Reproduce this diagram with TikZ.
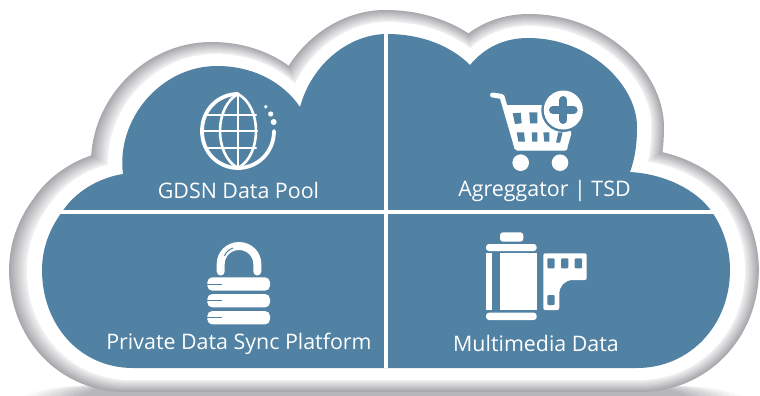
\documentclass[tikz,border=0pt]{standalone}
\usepackage{fontspec}
\setmainfont{Open Sans}
\definecolor{cloudblue}{HTML}{5182A3}
\definecolor{rimdark}{HTML}{A8A8AD}
\definecolor{shadowgray}{HTML}{B4B4B7}
\tikzstyle{cloudlabel}=[text=white,font=\fontsize{21.4}{24}\selectfont,inner sep=0pt]
\tikzstyle{divider}=[white,line width=3.2pt]
\tikzstyle{iconfill}=[fill=white,draw=none]
\tikzstyle{iconline}=[white,line cap=round,line join=round]
\tikzstyle{iconcut}=[fill=cloudblue,draw=none]
\newcommand{\cloudoutline}{
  (123,174) .. controls (116,120) and (160,66) .. (217,66) .. controls (253,66) and (283,82) .. (300,107)
  .. controls (312,63) and (350,34) .. (387,34) .. controls (420,34) and (450,45) .. (470,65)
  .. controls (485,47) and (505,38) .. (528,38) .. controls (590,38) and (637,85) .. (637,127)
  .. controls (637,145) and (635,158) .. (630,172)
  .. controls (665,174) and (697,190) .. (712,212) .. controls (723,228) and (730,248) .. (730,270)
  .. controls (730,325) and (690,368) .. (637,368) -- (133,368)
  .. controls (80,368) and (42,325) .. (42,270) .. controls (42,248) and (50,228) .. (62,212)
  .. controls (75,192) and (98,178) .. (123,174) -- cycle
}
\begin{document}
\begin{tikzpicture}[x=1pt,y=-1pt]
  \useasboundingbox (0,0) rectangle (760,396);
  % shadow under the cloud
  \foreach \i in {0,1,...,9} {
    \pgfmathsetmacro{\shade}{6+\i*10}
    \fill[shadowgray!\shade] (25+\i*6,396) .. controls (40+\i*6,388) and (60+\i*6,385) .. (120,385)
      -- (640,385) .. controls (700-\i*6,385) and (725-\i*6,388) .. (742-\i*6,396) -- cycle;
  }
  % grey rim, outer layers first
  \foreach \i in {12,11,...,1} {
    \pgfmathsetmacro{\shade}{100-(12-\i)*7.5}
    \pgfmathsetmacro{\wid}{2*(12+\i)}
    \pgfmathsetmacro{\xs}{1.009+\i*0.00092}
    \begin{scope}[shift={(386-386*\xs-\i*0.17,0)},xscale=\xs]
      \draw[rimdark!\shade,line width=\wid pt,line join=round] \cloudoutline;
    \end{scope}
  }
  \begin{scope}[shift={(386-386*1.009,0)},xscale=1.009]
    \draw[white,line width=24pt,line join=round] \cloudoutline;
  \end{scope}
  \fill[cloudblue] \cloudoutline;
  % quarters
  \coordinate (vtop) at (386,34);
  \coordinate (vbot) at (386,368);
  \coordinate (hleft) at (58,212);
  \coordinate (hright) at (714,212);
  \draw[divider] (vtop) -- (vbot);
  \draw[divider] (hleft) -- (hright);
  % globe
  \begin{scope}[shift={(238,131)}]
    \draw[iconline,line width=2.6pt] (0,-37) .. controls (-24,-24) and (-24,24) .. (0,37);
    \draw[iconline,line width=2.6pt] (0,-37) .. controls (24,-24) and (24,24) .. (0,37);
    \draw[iconline,line width=2.6pt] (0,-37) -- (0,37);
    \draw[iconline,line width=2.2pt] (-32,-16) -- (18,-16);
    \draw[iconline,line width=2.2pt] (-36,0) -- (19,0);
    \draw[iconline,line width=2.2pt] (-32,17) -- (18,17);
    \draw[iconline,line width=3.8pt] (36,0) .. controls (36,21) and (20,37) .. (0,37)
      .. controls (-20,37) and (-36,21) .. (-36,0) .. controls (-36,-21) and (-20,-37) .. (0,-37);
    \fill[white] (35.7,-9) circle (3);
    \fill[white] (32.7,-17) circle (2.6);
    \fill[white] (27.7,-24.3) circle (1.9);
  \end{scope}
  \node[cloudlabel] (pool) at (238.5,190.5) {GDSN Data Pool};
  % cart
  \fill[white] (520.7,162.7) circle (8.3);
  \fill[white] (560,162.7) circle (8.3);
  \draw[iconline,line width=5pt] (492.5,95) -- (502,96.5) -- (517,148) -- (565,148);
  \fill[iconfill,rounded corners=1.5pt] (505,105) -- (548,105) -- (571.7,132.5) -- (566.7,150) -- (515,150) -- cycle;
  \foreach \a/\b/\c/\d/\e/\f/\g/\h in {512.7/113.3/520.7/112.7/521.7/123.3/515/124,
    529.3/112.3/537.3/112.3/537.3/123.3/530/123.3,
    516.7/132.3/524/132.3/525/141.7/518.3/141.7,
    531.7/132.3/537.3/132.3/537.3/141.7/532.3/141.7,
    543.3/132.3/549.3/132.3/549.3/141.7/544.3/141.7,
    558.3/132.3/562.7/132.3/560/142.7/556/142.7} {
    \fill[iconcut] (\a,\b) -- (\c,\d) -- (\e,\f) -- (\g,\h) -- cycle;
  }
  \fill[cloudblue] (563.3,110) circle (22);
  \fill[white] (563.3,110) circle (19.5);
  \draw[cloudblue,line width=8pt,line cap=round] (553,110) -- (573.6,110);
  \draw[cloudblue,line width=8pt,line cap=round] (563.3,100) -- (563.3,120);
  \node[cloudlabel] (cart) at (544.5,190.5) {Agreggator | TSD};
  % lock
  \draw[iconline,line width=8pt] (220.7,271.5) -- (220.7,264) .. controls (220.7,253.9) and (228.9,246) .. (239,246)
    .. controls (249.1,246) and (257.3,253.9) .. (257.3,264) -- (257.3,271.5);
  \draw[cloudblue,line width=1pt] (224.5,256) .. controls (226,252) and (229,249.5) .. (233,248);
  \foreach \y in {277.3,294,311} {
    \fill[iconfill,rounded corners=5pt] (207.3,\y) rectangle (270,\y+13.4);
    \draw[cloudblue,line width=1pt] (207.3,\y+6.7) -- (221.5,\y+6.7);
  }
  \node[cloudlabel] (sync) at (239,343.5) {Private Data Sync Platform};
  % film
  \fill[iconfill,rounded corners=3pt] (500,241.7) -- (500,232.3) -- (523.3,232.3) -- (523.3,241.7) -- cycle;
  \fill[iconfill,rounded corners=3pt] (486,251) -- (486,244) -- (536.7,244) -- (536.7,251) -- cycle;
  \fill[iconfill] (486,253.3) rectangle (492.3,310);
  \fill[iconfill] (500,253.3) rectangle (536.7,310);
  \fill[iconfill,rounded corners=3pt] (486,312.7) -- (486,320) -- (536.7,320) -- (536.7,312.7) -- cycle;
  \fill[iconfill,rounded corners=2pt] (543.3,253.3) -- (586.7,253.3) -- (586.7,280) -- (575,280)
    .. controls (565,280) and (559.3,286) .. (559.3,296) -- (559.3,310) -- (543.3,310) -- cycle;
  \foreach \x/\y in {547.3/258.3,561/258.3,574.7/258.3,547.3/295} {
    \fill[iconcut,rounded corners=1pt] (\x,\y) rectangle (\x+7.3,\y+10);
  }
  \node[cloudlabel] (media) at (536,343.5) {Multimedia Data};
\end{tikzpicture}
\end{document}
